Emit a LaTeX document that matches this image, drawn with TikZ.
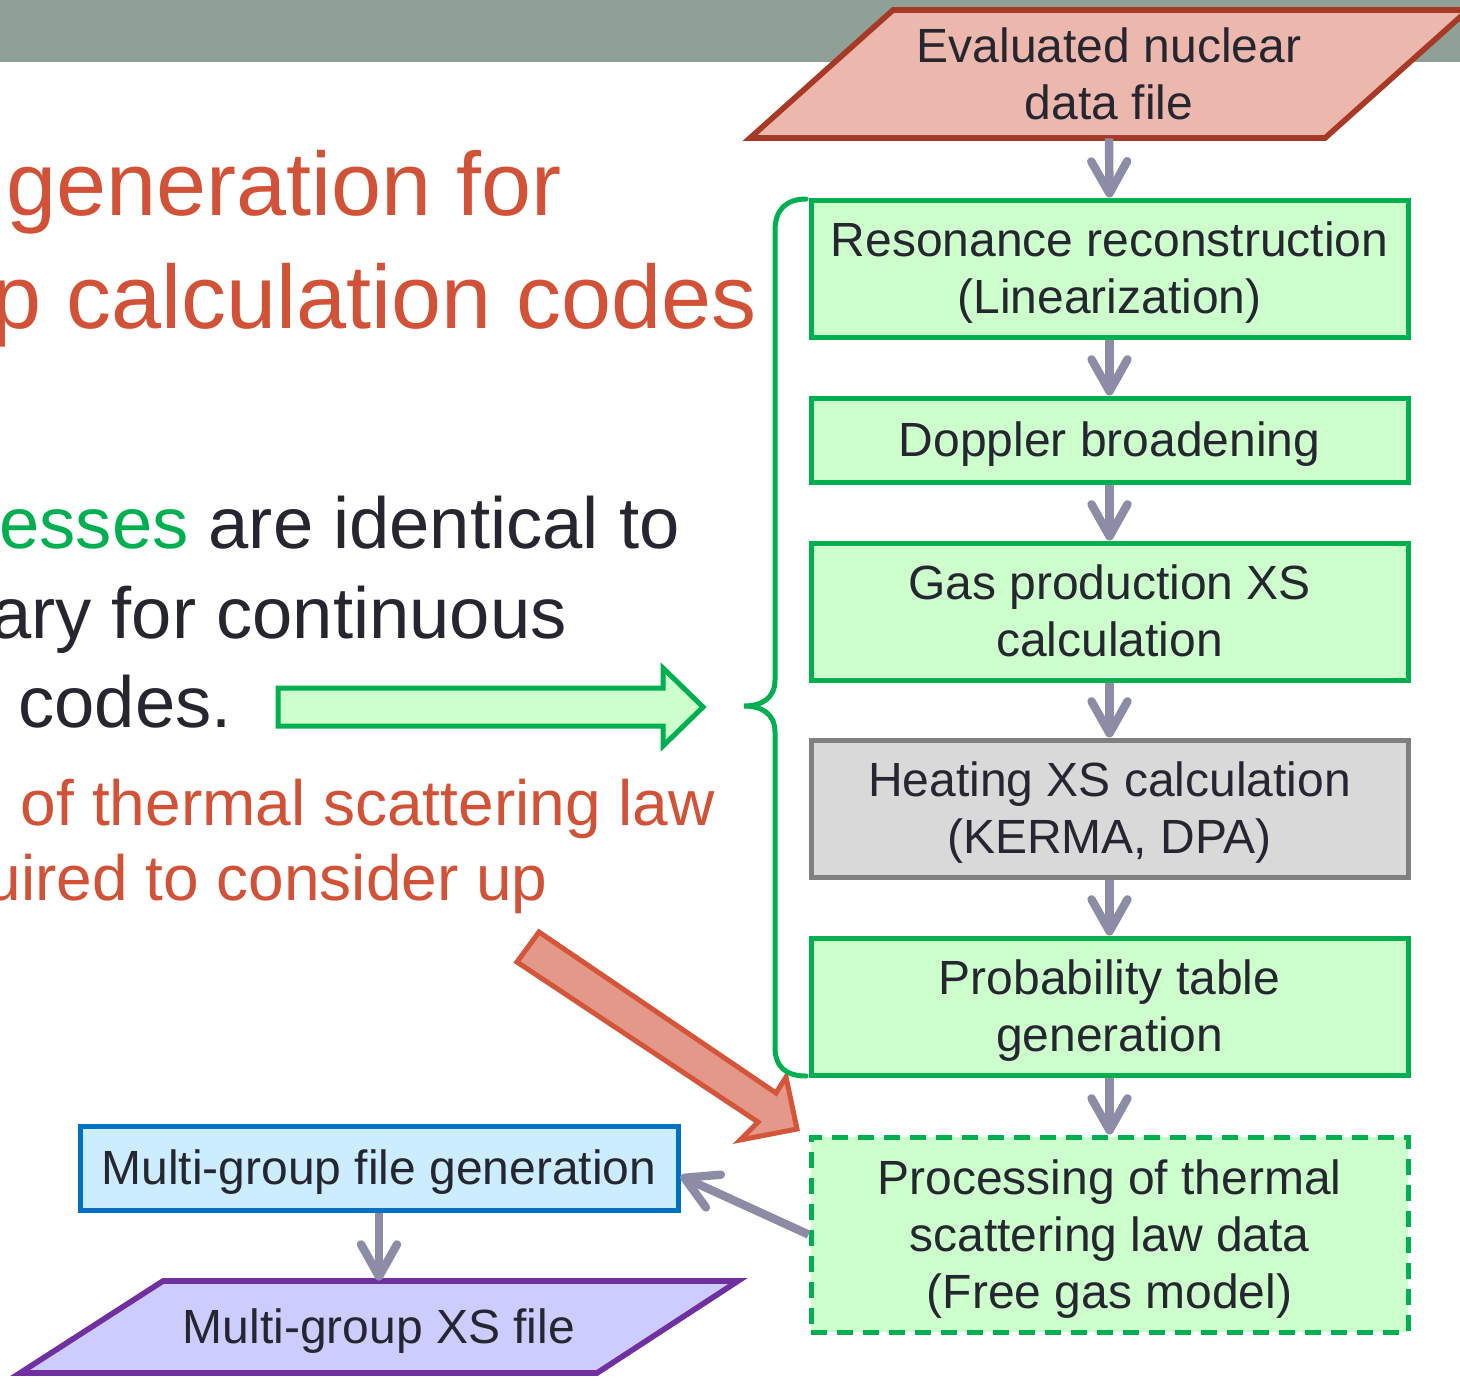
\documentclass[tikz,border=0pt]{standalone}
\usepackage{fontspec}
\setmainfont{Liberation Sans}
\usetikzlibrary{arrows.meta}
\definecolor{band}{HTML}{8FA196}
\definecolor{titlered}{HTML}{D25237}
\definecolor{txt}{HTML}{262630}
\definecolor{tgreen}{HTML}{00B050}
\definecolor{boxfill}{HTML}{CCFFCC}
\definecolor{evfill}{HTML}{ECB8AE}
\definecolor{evdraw}{HTML}{A63A26}
\definecolor{grayfill}{HTML}{D9D9D9}
\definecolor{graydraw}{HTML}{808080}
\definecolor{arrowc}{HTML}{8C8CA6}
\definecolor{redfill}{HTML}{E49889}
\definecolor{reddraw}{HTML}{D5553A}
\definecolor{bluefill}{HTML}{CCECFF}
\definecolor{bluedraw}{HTML}{0070C0}
\definecolor{purfill}{HTML}{CCCCFF}
\definecolor{purdraw}{HTML}{7030A0}
\newcommand\lnstrut{\rule[-5.1pt]{0pt}{26.8pt}}
\tikzset{
  lbl/.style={text=txt, font=\fontsize{24}{28.5}\selectfont, align=center, inner sep=0pt},
  greenbox/.style={lbl, draw=tgreen, fill=boxfill, line width=2.5pt, minimum width=298.5pt},
  tallbox/.style={minimum height=68.5pt},
  flow/.style={draw=arrowc, line width=4.2pt, -{Straight Barb[length=16pt,width=18pt,line cap=round,line join=round]}},
  bigtitle/.style={text=titlered, font=\fontsize{45}{54}\selectfont, inner sep=0pt, anchor=base east},
  bodytext/.style={text=txt, font=\fontsize{36.2}{44}\selectfont, inner sep=0pt},
  redtext/.style={text=titlered, font=\fontsize{32}{40}\selectfont, inner sep=0pt, anchor=base east}
}
\begin{document}
\begin{tikzpicture}[x=0.5pt,y=-0.5pt]
\useasboundingbox (0,0) rectangle (1460,1383);
\clip (0,0) rectangle (1460,1383);
\fill[white] (0,0) rectangle (1460,1383);
% header band
\fill[band] (0,0) rectangle (1460,62);

% slide text (left side)
\node[bigtitle] (t1) at (562,215) {generation for};
\node[bigtitle] (t2) at (757,328) {p calculation codes};
\node[bodytext, anchor=base east] (b1) at (680,548) {{\color{tgreen}esses} are identical to};
\node[bodytext, anchor=base east] (b2) at (567,638) {ary for continuous};
\node[bodytext, anchor=base west] (b3) at (18,727) {codes.};
\node[redtext] (r1) at (715,825) {n of thermal scattering law};
\node[redtext] (r2) at (548,900) {uired to consider up};

% green block arrow
\draw[tgreen, fill=boxfill, line width=2.5pt, line join=miter]
  (278,688) -- (663,688) -- (663,668) -- (703,707) -- (663,746) -- (663,726) -- (278,726) -- cycle;

% red block arrow
\draw[reddraw, fill=redfill, line width=2.5pt, line join=miter]
  (539,932) -- (776,1093) -- (786,1077) -- (797,1129) -- (740,1140) -- (758,1122) -- (517,962) -- cycle;

% brace
\draw[tgreen, line width=2.5pt, line cap=round]
  (806,199) .. controls (786,199) and (775,210) .. (775,230) -- (775,680)
  .. controls (775,698) and (762,706) .. (744,706)
  .. controls (762,706) and (775,714) .. (775,732) -- (775,1047)
  .. controls (775,1067) and (786,1076) .. (806,1076);

% evaluated nuclear data file (parallelogram)
\draw[evdraw, fill=evfill, line width=2.8pt, line join=miter]
  (893,10) -- (1468,10) -- (1325,138) -- (750,138) -- cycle;
\node[lbl, minimum height=64pt] (ev) at (1109,74) {\lnstrut Evaluated nuclear\\\lnstrut data file};

% process boxes
\node[greenbox, tallbox] (res) at (1109.5,268.5) {\lnstrut Resonance reconstruction\\\lnstrut (Linearization)};
\node[greenbox, minimum height=42pt] (dop) at (1109.5,440) {\lnstrut Doppler broadening};
\node[greenbox, tallbox] (gas) at (1109.5,611.5) {\lnstrut Gas production XS\\\lnstrut calculation};
\node[lbl, draw=graydraw, fill=grayfill, line width=2.5pt, minimum width=298.5pt, tallbox] (heat) at (1109.5,808.5) {\lnstrut Heating XS calculation\\\lnstrut (KERMA, DPA)};
\node[greenbox, tallbox] (prob) at (1109.5,1006.5) {\lnstrut Probability table\\\lnstrut generation};
\node[greenbox, minimum height=97.5pt, dash pattern=on 8pt off 5pt] (proc) at (1109.5,1234.5) {\lnstrut Processing of thermal\\\lnstrut scattering law data\\\lnstrut (Free gas model)};

% multi-group
\node[lbl, draw=bluedraw, fill=bluefill, line width=2.5pt, minimum width=299pt, minimum height=42pt] (mg) at (379,1168) {\lnstrut Multi-group file generation};
\draw[purdraw, fill=purfill, line width=2.8pt, line join=miter]
  (163,1281) -- (738,1281) -- (597,1373) -- (20,1373) -- cycle;
\node[lbl, minimum height=46pt] (xs) at (379,1327) {\lnstrut Multi-group XS file};

% flow arrows
\draw[flow] (ev.south) -- (res.north);
\draw[flow] (res.south) -- (dop.north);
\draw[flow] (dop.south) -- (gas.north);
\draw[flow] (gas.south) -- (heat.north);
\draw[flow] (heat.south) -- (prob.north);
\draw[flow] (prob.south) -- (proc.north);
\draw[flow] (proc.west) -- ([yshift=-4pt]mg.east);
\draw[flow] (mg.south) -- (xs.north);
\end{tikzpicture}
\end{document}
